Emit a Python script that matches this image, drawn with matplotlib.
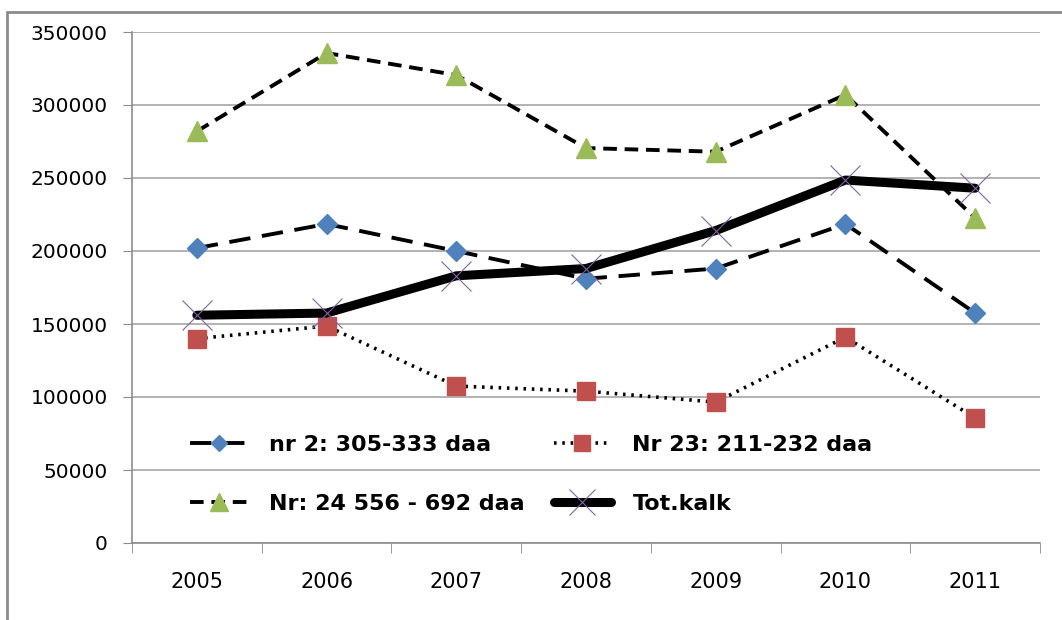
import matplotlib.pyplot as plt
from matplotlib.patches import Rectangle

# Data
years = ["2005", "2006", "2007", "2008", "2009", "2010", "2011"]
nr2 = [202000, 218500, 200000, 181000, 188000, 218500, 157500]
nr23 = [140000, 148600, 107500, 104000, 96500, 141000, 85600]
nr24 = [282000, 335600, 320500, 270500, 268000, 307000, 222600]
tot = [156000, 157500, 183000, 188000, 214000, 248600, 243000]

labels = ["nr 2: 305-333 daa", "Nr 23: 211-232 daa", "Nr: 24 556 - 692 daa", "Tot.kalk"]
yticks = [0, 50000, 100000, 150000, 200000, 250000, 300000, 350000]

fig = plt.figure(figsize=(10.62, 6.2), dpi=100)
ax = fig.add_axes([132 / 1062, 77 / 620, 908 / 1062, 511 / 620])

# outer chart frame
fig.patches.append(Rectangle((7 / 1062, -0.05), 1.1, (620 - 12) / 620 + 0.05,
                             transform=fig.transFigure, fill=False,
                             edgecolor="#8c8c8c", linewidth=2))

x = range(len(years))
l1, = ax.plot(x, nr2, color="black", linestyle=(0, (5.5, 3)), linewidth=2.8,
              marker="D", markersize=10, markerfacecolor="#4F81BD",
              markeredgecolor="#4F81BD", zorder=3)
l2, = ax.plot(x, nr23, color="black", linestyle=(0, (0.7, 1.6)), linewidth=2.6,
              marker="s", markersize=13, markerfacecolor="#C0504D",
              markeredgecolor="#C0504D", zorder=3)
l3, = ax.plot(x, nr24, color="black", linestyle=(0, (3.5, 2)), linewidth=2.8,
              marker="^", markersize=15, markerfacecolor="#9BBB59",
              markeredgecolor="#9BBB59", zorder=3)
l4, = ax.plot(x, tot, color="black", linestyle="-", linewidth=6.5,
              solid_capstyle="round", marker="x", markersize=22,
              markeredgecolor="#8064A2", markeredgewidth=0.8, zorder=4)

ax.set_xlim(-0.5, len(years) - 0.5)
ax.set_ylim(0, 350000)
ax.set_yticks(yticks)
ax.set_yticklabels([str(v) for v in yticks], fontsize=14.5, family="DejaVu Sans")
ax.set_xticks(x)
ax.set_xticklabels(years, fontsize=15, family="DejaVu Sans")
ax.set_xticks([i - 0.5 for i in range(len(years) + 1)], minor=True)
ax.tick_params(axis="x", which="major", length=0, pad=21)
ax.tick_params(axis="x", which="minor", length=7, color="#8c8c8c")
ax.tick_params(axis="y", length=6.5, color="#8c8c8c", pad=11)

ax.grid(axis="y", color="#a6a6a6", linewidth=1.2)
ax.set_axisbelow(True)
for s in ["top", "right"]:
    ax.spines[s].set_visible(False)
for s in ["left", "bottom"]:
    ax.spines[s].set_color("#8c8c8c")
    ax.spines[s].set_linewidth(1.2)

# row-major order: nr2, Nr23 on first row; Nr24, Tot.kalk on second
ax.legend([l1, l3, l2, l4], [labels[0], labels[2], labels[1], labels[3]],
          ncol=2, loc="upper left", bbox_to_anchor=(0.064, 0.212),
          frameon=False, borderpad=0, borderaxespad=0, markerscale=0.85,
          prop={"family": "DejaVu Sans", "weight": "bold", "size": 16},
          handlelength=2.6, handletextpad=0.95, columnspacing=1.3,
          labelspacing=1.75)

fig.savefig("out.png", dpi=100)
